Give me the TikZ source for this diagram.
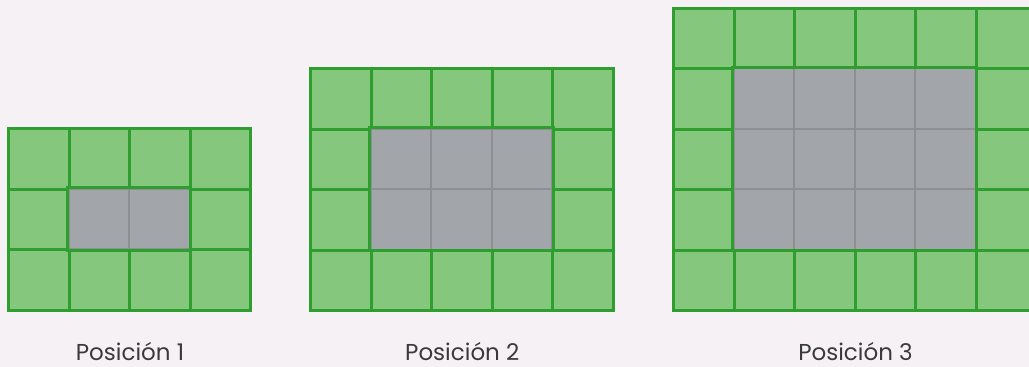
\documentclass[tikz,border=0pt]{standalone}
\usepackage{fontspec}
\setmainfont{Poppins}
\definecolor{fondo}{HTML}{F6F1F5}
\definecolor{verde}{HTML}{84C77D}
\definecolor{verdeosc}{HTML}{2E9E2E}
\definecolor{gris}{HTML}{A2A5A9}
\definecolor{grisosc}{HTML}{8E8F92}
\definecolor{texto}{HTML}{3A3A3A}
\usetikzlibrary{positioning}

\begin{document}
\begin{tikzpicture}[
  x=1pt, y=-1pt,
  celda/.style={rectangle, draw=verdeosc, fill=verde, line width=3pt,
                minimum size=60.5pt, inner sep=0pt, anchor=north west},
  celdagris/.style={celda, draw=grisosc, fill=gris, line width=2pt},
  borde/.style={draw=verdeosc, line width=3pt},
  etiqueta/.style={font=\fontsize{23}{27}\selectfont, text=texto}
]
  \fill[fondo] (0,0) rectangle (1029,367);
  \clip (0,0) rectangle (1029,367);

  \foreach \gx/\gy/\nc/\nr/\k in {7/127/4/3/1, 309/67/5/4/2, 672/6.5/6/5/3} {
    % green frame of cells
    \foreach \i in {1,...,\nc} {
      \foreach \j in {1,...,\nr} {
        \node[celda] (c\k-\i-\j) at ({\gx+(\i-1)*60.5}, {\gy+(\j-1)*60.5}) {};
      }
    }
    % gray block inside
    \pgfmathtruncatemacro{\gc}{\nc-1}
    \pgfmathtruncatemacro{\gr}{\nr-1}
    \foreach \i in {2,...,\gc} {
      \foreach \j in {2,...,\gr} {
        \node[celdagris] (g\k-\i-\j) at ({\gx+(\i-1)*60.5}, {\gy+(\j-1)*60.5}) {};
      }
    }
    \draw[borde] (g\k-2-2.north west) rectangle (g\k-\gc-\gr.south east);

    \node[etiqueta] (pos\k) at ({\gx+\nc*30.25+2}, 352) {Posición \k};
  }
\end{tikzpicture}
\end{document}
